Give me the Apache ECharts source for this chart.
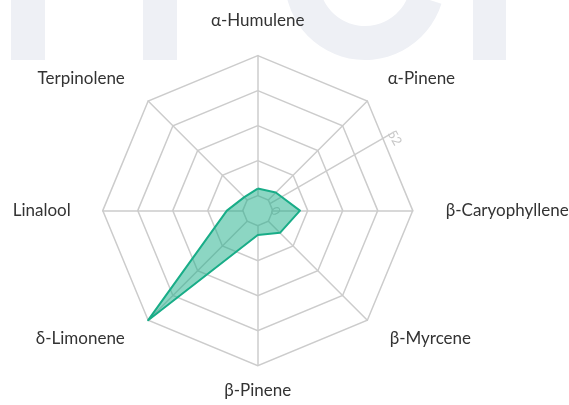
<!DOCTYPE html>
<html>
<head>
<meta charset="utf-8">
<script src="https://cdn.jsdelivr.net/npm/echarts@6/dist/echarts.min.js"></script>
<style>html,body{margin:0;padding:0;background:#fff;}#c{width:569px;height:405px;}</style>
</head>
<body>
<div id="c"></div>
<script>
// Indicators in drawing order (counter-clockwise from top)
const indicatorNames = ['α-Humulene', 'Terpinolene', 'Linalool', 'δ-Limonene', 'β-Pinene', 'β-Myrcene', 'β-Caryophyllene', 'α-Pinene'];
const terpeneValues = [2.6, 1.5, 5.9, 52, 3.5, 6.1, 10.1, 3.9];
const axisMax = 52;
const radiusTicks = [0, 52];
// rich style key per indicator (label placement tweak)
const nameStyleKeys = ['top', 'ul', 'l', 'dl', 'b', 'dr', 'r', 'ur'];

const chart = echarts.init(document.getElementById('c'));
const wm = '#eef0f5';
const nameBase = { color: '#333', fontSize: 17, fontFamily: 'Lato' };
chart.setOption({
  animation: false,
  textStyle: { fontFamily: 'Lato' },
  graphic: [
    { type: 'rect', z: -10, shape: { x: 11, y: 0, width: 34, height: 60 }, style: { fill: wm } },
    { type: 'rect', z: -10, shape: { x: 143, y: 0, width: 34, height: 60 }, style: { fill: wm } },
    { type: 'rect', z: -10, shape: { x: 473, y: 0, width: 33, height: 60 }, style: { fill: wm } },
    { type: 'sector', z: -10, shape: { cx: 365, cy: -20, r: 80, r0: 46, startAngle: 0.3, endAngle: Math.PI * 1.3, clockwise: true }, style: { fill: wm } }
  ],
  radar: {
    center: ['45.3%', '52%'],
    radius: [15, 155],
    startAngle: 90,
    splitNumber: 4,
    shape: 'polygon',
    nameGap: 16,
    axisName: {
      color: '#333', fontSize: 17, fontFamily: 'Lato',
      formatter: function (name) {
        const i = indicatorNames.indexOf(name);
        return '{' + nameStyleKeys[i] + '|' + name + '}';
      },
      rich: {
        top: Object.assign({ padding: [0, 0, 11, 0] }, nameBase),
        ul: Object.assign({ padding: [0, 12, 22, 0] }, nameBase),
        l: Object.assign({ padding: [0, 16, 0, 0] }, nameBase),
        dl: Object.assign({ padding: [14, 12, 0, 0] }, nameBase),
        b: Object.assign({ padding: [0, 0, 0, 0] }, nameBase),
        dr: Object.assign({ padding: [14, 0, 0, 11] }, nameBase),
        r: Object.assign({ padding: [0, 0, 0, 17] }, nameBase),
        ur: Object.assign({ padding: [0, 0, 22, 9] }, nameBase)
      }
    },
    indicator: indicatorNames.map(n => ({ name: n, min: 0, max: axisMax })),
    axisLine: { lineStyle: { color: '#cccccc', width: 1.5 } },
    splitLine: { lineStyle: { color: '#cccccc', width: 1.5 } },
    splitArea: { show: false },
    axisLabel: { show: false }
  },
  polar: { center: ['45.3%', '52%'], radius: [15, 155] },
  angleAxis: { type: 'value', startAngle: 30, show: false, axisLine: { show: false }, axisTick: { show: false }, axisLabel: { show: false }, splitLine: { show: false } },
  radiusAxis: {
    type: 'value', min: radiusTicks[0], max: radiusTicks[1], interval: radiusTicks[1] - radiusTicks[0],
    axisLine: { lineStyle: { color: '#cccccc', width: 1.5 } },
    axisTick: { show: false },
    splitLine: { show: false },
    axisLabel: { color: '#c8c8c8', fontSize: 13, rotate: -60, margin: -13 },
    z: 1
  },
  series: [{
    type: 'radar',
    z: 3,
    symbol: 'none',
    lineStyle: { color: '#19ad88', width: 2 },
    itemStyle: { color: '#19ad88' },
    areaStyle: { color: '#19ad88', opacity: 0.5 },
    data: [{ value: terpeneValues, name: 'Terpenes' }]
  }]
});
</script>
</body>
</html>
